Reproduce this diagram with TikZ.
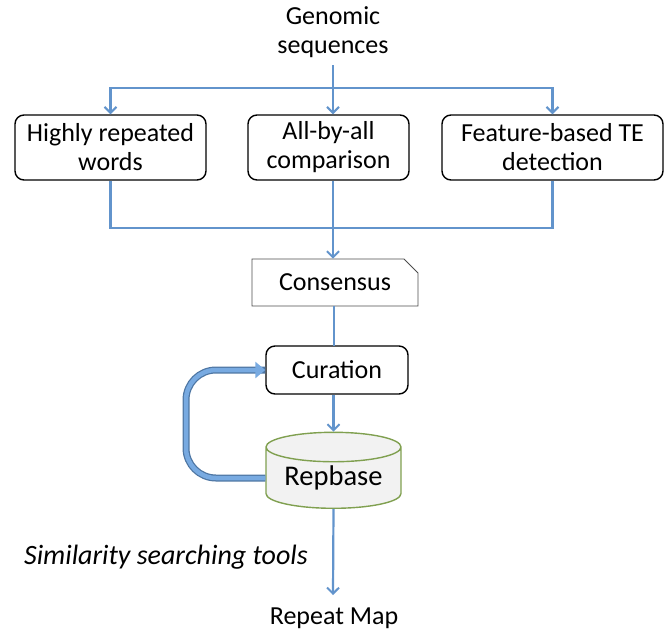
\documentclass[tikz,border=0pt]{standalone}
\usepackage{fontspec}
\setmainfont{Carlito}
\usetikzlibrary{shapes.geometric,shapes.misc,arrows.meta}
\definecolor{flowblue}{RGB}{98,148,204}
\definecolor{loopblue}{RGB}{120,170,225}
\definecolor{dbgreen}{RGB}{128,160,80}

\begin{document}
\begin{tikzpicture}[x=1pt,y=-1pt,
  font=\fontsize{26}{29}\selectfont,
  step box/.style={draw,line width=1.4pt,rounded corners=9pt,align=center,minimum height=65pt,inner sep=0pt},
  flow/.style={draw=flowblue,line width=2.2pt},
  flowarrow/.style={flow,-{Straight Barb[length=6pt,width=12pt,line width=2pt]}}]
\useasboundingbox (0,0) rectangle (664,633);

\node[align=center] (genome) at (333,32) {Genomic\\sequences};
\node[step box,minimum width=191pt] (words) at (110.5,147.5) {Highly repeated\\words};
\node[step box,minimum width=161pt] (allbyall) at (328.5,147.5) {All-by-all\\comparison};
\node[step box,minimum width=221pt] (feature) at (552.5,147.5) {Feature-based TE\\detection};
\node[draw=black!70,line width=0.8pt,chamfered rectangle,chamfered rectangle corners=north east,
  chamfered rectangle xsep=7pt,chamfered rectangle ysep=7pt,minimum width=166pt,minimum height=47pt,inner sep=0pt] (consensus) at (335,282.5) {Consensus};
\node[step box,minimum width=142pt,minimum height=48pt] (curation) at (337,370) {Curation};
\node[cylinder,shape border rotate=90,aspect=0.3,draw=dbgreen,line width=1.4pt,fill=black!5,
  minimum width=135pt,minimum height=76pt,inner sep=0pt,font=\fontsize{28.5}{30}\selectfont] (repbase) at (333.5,478) {Repbase};
\node (map) at (334,618) {Repeat Map};
\node[font=\fontsize{28}{29}\selectfont\itshape] (tools) at (166,557) {Similarity searching tools};

\coordinate (split) at (333,88);
\coordinate (join) at (333,228);
\draw[flow] (genome.south) ++(0,4) -- (split);
\draw[flowarrow] (split) -| (words.north);
\draw[flowarrow] (split) -- (allbyall.north -| split);
\draw[flowarrow] (split) -| (feature.north);
\draw[flow] (words.south) |- (join);
\draw[flow] (feature.south) |- (join);
\draw[flow] (allbyall.south -| join) -- (join);
\draw[flowarrow] (join) -- (consensus.north -| join);
\draw[flow] (consensus.south -| curation.north) ++(-3,0) -- ++(0,40);
\draw[flowarrow] (curation.south -| repbase.north) -- (repbase.north);
\draw[flowarrow] (repbase.south) -- (333,595);

% feedback loop
\coordinate (loopfoot) at (186,0 |- repbase.west);
\coordinate (loophead) at (186,0 |- curation.west);
\draw[draw=flowblue!80!black,line width=7pt,rounded corners=30pt] (repbase.west) -- (loopfoot) -- (loophead) -- (curation.west);
\draw[draw=loopblue,line width=4.5pt,rounded corners=30pt,-{Triangle[length=10pt,width=16pt]}] (repbase.west) -- (loopfoot) -- (loophead) -- (curation.west);
\end{tikzpicture}
\end{document}
